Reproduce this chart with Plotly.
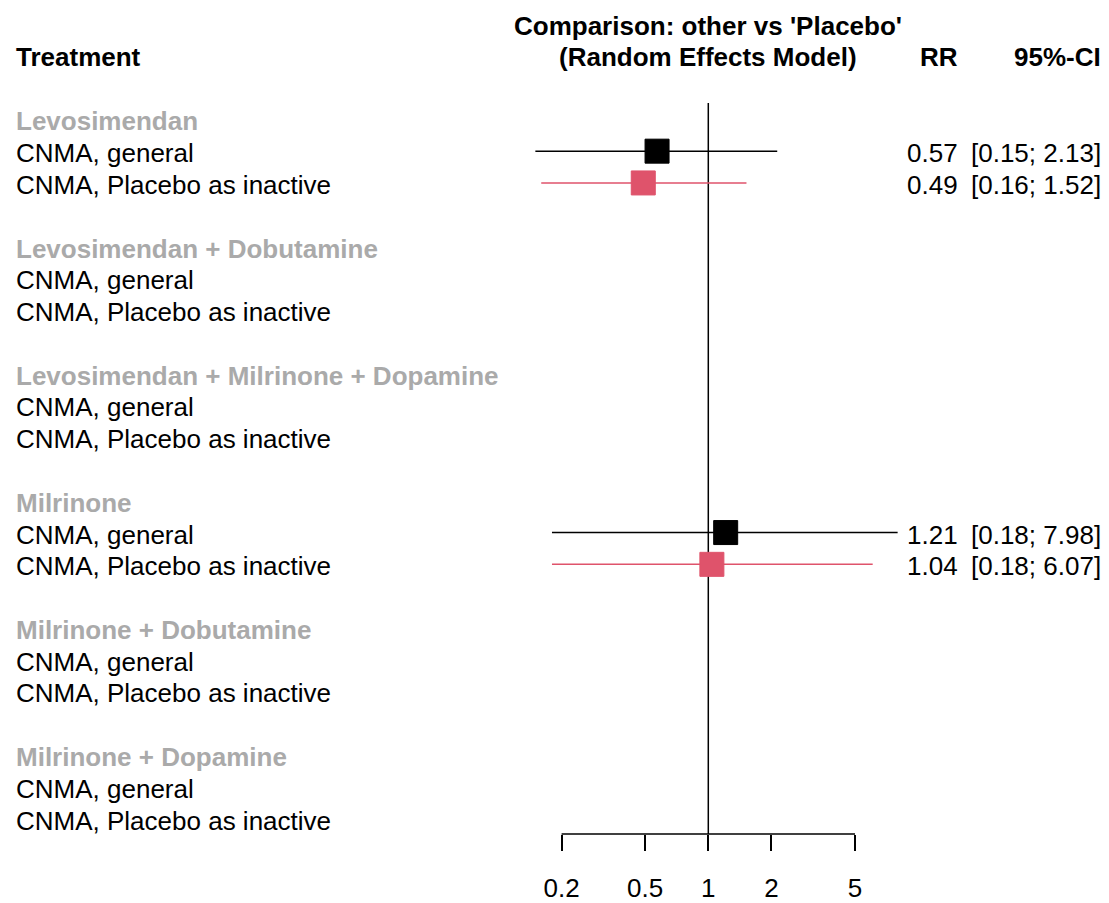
import plotly.graph_objects as go

# ---------------- data ----------------
treatments = [
    "Levosimendan",
    "Levosimendan + Dobutamine",
    "Levosimendan + Milrinone + Dopamine",
    "Milrinone",
    "Milrinone + Dobutamine",
    "Milrinone + Dopamine",
]
models = ["CNMA, general", "CNMA, Placebo as inactive"]
model_colors = ["#000000", "#DF536B"]

# RR estimates per treatment (None = not estimable / not shown)
rr_general = [0.57, None, None, 1.21, None, None]
lo_general = [0.15, None, None, 0.18, None, None]
hi_general = [2.13, None, None, 7.98, None, None]

rr_inactive = [0.49, None, None, 1.04, None, None]
lo_inactive = [0.16, None, None, 0.18, None, None]
hi_inactive = [1.52, None, None, 6.07, None, None]

tick_vals = [0.2, 0.5, 1, 2, 5]
tick_text = ["0.2", "0.5", "1", "2", "5"]

# ---------------- layout constants ----------------
W, H = 1109, 903
FONT = "Liberation Sans, Arial, sans-serif"
FS = 26
ROW0_PX = 119.5
ROW_H = 32.0
TEXT_SHIFT = -2
TOP_PX, BOT_PX = 103.0, 839.0
CENTER_PX = 708.3
PX_PER_DEC = 209.9

x_left_px = CENTER_PX - PX_PER_DEC
x_right_px = CENTER_PX + PX_PER_DEC
y_top_row = (TOP_PX - ROW0_PX) / ROW_H
y_bot_row = (BOT_PX - ROW0_PX) / ROW_H


def py(px):
    """pixel row -> paper y (paper spans the plot area vertically)"""
    return (BOT_PX - px) / (BOT_PX - TOP_PX)


fig = go.Figure()
annotations = []

series = [
    (rr_general, lo_general, hi_general),
    (rr_inactive, lo_inactive, hi_inactive),
]

row = 0
for ti, tname in enumerate(treatments):
    annotations.append(dict(
        x=14 / W, xref="paper", y=row, yref="y", xanchor="left", yanchor="middle",
        yshift=TEXT_SHIFT,
        text=f"<b>{tname}</b>", showarrow=False,
        font=dict(family=FONT, size=FS, color="#AAAAAA")))
    row += 1
    for mi, mname in enumerate(models):
        annotations.append(dict(
            x=14 / W, xref="paper", y=row, yref="y", xanchor="left", yanchor="middle",
            yshift=TEXT_SHIFT,
            text=mname, showarrow=False,
            font=dict(family=FONT, size=FS, color="#000000")))
        rr, lo, hi = series[mi]
        if rr[ti] is not None:
            col = model_colors[mi]
            fig.add_trace(go.Scatter(
                x=[lo[ti], hi[ti]], y=[row, row], mode="lines",
                line=dict(color=col, width=1.5), showlegend=False,
                hoverinfo="skip", cliponaxis=False))
            fig.add_trace(go.Scatter(
                x=[rr[ti]], y=[row], mode="markers",
                marker=dict(symbol="square", size=24, color=col,
                            line=dict(color=col, width=1)),
                showlegend=False, cliponaxis=False))
            annotations.append(dict(
                x=960 / W, xref="paper", y=row, yref="y", xanchor="right", yanchor="middle",
                yshift=TEXT_SHIFT,
                text=f"{rr[ti]:.2f}", showarrow=False,
                font=dict(family=FONT, size=FS, color="#000000")))
            annotations.append(dict(
                x=1103 / W, xref="paper", y=row, yref="y", xanchor="right", yanchor="middle",
                yshift=TEXT_SHIFT,
                text=f"[{lo[ti]:.2f}; {hi[ti]:.2f}]", showarrow=False,
                font=dict(family=FONT, size=FS, color="#000000")))
        row += 1
    row += 1

# header texts
hdr1 = py(25)
hdr2 = py(57)
annotations += [
    dict(x=14 / W, xref="paper", y=hdr2, yref="paper", xanchor="left", yanchor="middle",
         text="<b>Treatment</b>", showarrow=False, font=dict(family=FONT, size=FS, color="#000")),
    dict(x=CENTER_PX / W, xref="paper", y=hdr1, yref="paper", xanchor="center", yanchor="middle",
         text="<b>Comparison: other vs 'Placebo'</b>", showarrow=False,
         font=dict(family=FONT, size=FS, color="#000")),
    dict(x=CENTER_PX / W, xref="paper", y=hdr2, yref="paper", xanchor="center", yanchor="middle",
         text="<b>(Random Effects Model)</b>", showarrow=False,
         font=dict(family=FONT, size=FS, color="#000")),
    dict(x=960 / W, xref="paper", y=hdr2, yref="paper", xanchor="right", yanchor="middle",
         text="<b>RR</b>", showarrow=False, font=dict(family=FONT, size=FS, color="#000")),
    dict(x=1103 / W, xref="paper", y=hdr2, yref="paper", xanchor="right", yanchor="middle",
         text="<b>95%-CI</b>", showarrow=False, font=dict(family=FONT, size=FS, color="#000")),
]

shapes = [
    # reference line at RR = 1
    dict(type="line", xref="x", yref="y domain", x0=1, x1=1, y0=0, y1=1,
         line=dict(color="#000", width=1.5), layer="below"),
    # axis line spanning tick range
    dict(type="line", xref="x", yref="y domain", x0=tick_vals[0], x1=tick_vals[-1], y0=0, y1=0,
         line=dict(color="#000", width=1.5), layer="above"),
]

fig.update_layout(
    width=W, height=H,
    margin=dict(l=0, r=0, t=TOP_PX, b=H - BOT_PX),
    paper_bgcolor="white", plot_bgcolor="white",
    showlegend=False,
    annotations=annotations,
    shapes=shapes,
    xaxis=dict(
        type="log", range=[-1, 1],
        domain=[x_left_px / W, x_right_px / W],
        tickvals=tick_vals, ticktext=tick_text,
        ticks="outside", ticklen=16, tickwidth=1.5, tickcolor="#000",
        showline=False, showgrid=False, zeroline=False,
        ticklabelstandoff=15,
        tickfont=dict(family=FONT, size=FS, color="#000"),
    ),
    yaxis=dict(
        range=[y_bot_row, y_top_row],
        showticklabels=False, showgrid=False, zeroline=False, showline=False,
        ticks="",
    ),
)

fig.write_html(
    "out.html",
    config={"displayModeBar": False},
    post_script="document.body.style.margin='0px';document.body.style.overflow='hidden';",
)
